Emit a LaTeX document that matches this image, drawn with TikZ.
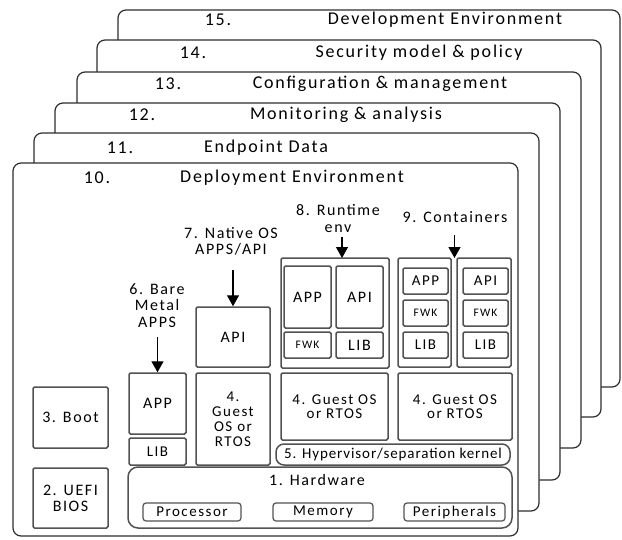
\documentclass[tikz,border=0pt]{standalone}
\usepackage{fontspec}
\setmainfont{Carlito}[LetterSpace=10]
\usetikzlibrary{arrows.meta}
\begin{document}
\begin{tikzpicture}[x=1pt,y=-1pt,
  frame/.style={draw=black!82, fill=white, line width=1.2pt, rounded corners=8pt, inner sep=0, minimum width=#1},
  box/.style={draw=black!68, fill=white, line width=1.5pt, rounded corners=1.5pt, inner sep=0, align=center, text=black, font=\fontsize{15}{15}\selectfont},
  small/.style={font=\fontsize{11.5}{12}\selectfont},
  head/.style={inner sep=0, text=black, font=\fontsize{18}{18}\selectfont},
  lbl/.style={inner sep=0, align=center, text=black, font=\fontsize{16}{16.5}\selectfont},
  tag/.style={draw=black!68, fill=white, line width=1.2pt, rounded corners=3pt, inner sep=0, text=black, font=\fontsize{15}{15}\selectfont},
  arr/.style={-{Triangle[width=12pt,length=11pt]}, line width=1.3pt, draw=black}
]
\useasboundingbox (0,0) rectangle (622,539);
% stacked frames, back to front
\node[frame=502, minimum height=377] (f15) at (369,198.5) {};
\node[head] at (218,20) {15.};
\node[head] at (445,20) {Development Environment};
\node[frame=504, minimum height=377] (f14) at (349,228.5) {};
\node[head] at (193,53) {14.};
\node[head] at (419,53) {Security model \& policy};
\node[frame=504, minimum height=376] (f13) at (329,260) {};
\node[head] at (168,84) {13.};
\node[head] at (380,84) {Configuration \& management};
\node[frame=505, minimum height=377] (f12) at (307.5,291.5) {};
\node[head] at (142,115) {12.};
\node[head] at (346,115) {Monitoring \& analysis};
\node[frame=505, minimum height=378] (f11) at (286.5,322) {};
\node[head] at (120,148) {11.};
\node[head] at (266,148) {Endpoint Data};
\node[frame=505, minimum height=373] (f10) at (265.5,349.5) {};
\node[head] at (97,178) {10.};
\node[head] at (292,178) {Deployment Environment};

% left column
\node[box, minimum width=75, minimum height=61, font=\fontsize{16}{16}\selectfont] (boot) at (70.5,417.5) {3. Boot};
\node[box, minimum width=75, minimum height=60, font=\fontsize{16}{16}\selectfont] (uefi) at (70.5,498) {2. UEFI\\BIOS};

% bare metal
\node[box, minimum width=57, minimum height=61, font=\fontsize{16}{16}\selectfont] (bmapp) at (157.5,403.5) {APP};
\node[box, minimum width=57, minimum height=27] (bmlib) at (157.5,451.5) {LIB};
\node[lbl] (l6) at (157,305.5) {6. Bare\\Metal\\APPS};
\coordinate (a6) at (157.5,337);
\draw[arr] (a6) -- (bmapp.north);

% native OS
\node[box, minimum width=74, minimum height=60, font=\fontsize{16}{16}\selectfont] (napi) at (233,337) {API};
\node[box, minimum width=74, minimum height=92] (gos1) at (233,419) {};
\node[lbl, font=\fontsize{15}{15}\selectfont] (gos1t) at (233,419) {4.\\Guest\\OS or\\RTOS};
\node[lbl] (l7) at (231,241.5) {7. Native OS\\APPS/API};
\coordinate (a7) at (233,270);
\draw[arr] (a7) -- (napi.north);

% runtime env
\node[box, minimum width=108, minimum height=110] (rt) at (335,313) {};
\node[box, minimum width=47, minimum height=62, font=\fontsize{16}{16}\selectfont] (rtapp) at (307.5,297) {APP};
\node[box, minimum width=47, minimum height=62, font=\fontsize{16}{16}\selectfont] (rtapi) at (359.5,297) {API};
\node[box, small, minimum width=47, minimum height=26] (rtfwk) at (307.5,345) {FWK};
\node[box, minimum width=47, minimum height=26, font=\fontsize{16}{16}\selectfont] (rtlib) at (359.5,345) {LIB};
\node[box, minimum width=107, minimum height=67, font=\fontsize{15}{14}\selectfont] (gos2) at (334.5,406.5) {4. Guest OS\\or RTOS};
\node[lbl] (l8) at (338,218.5) {8. Runtime\\env};
\coordinate (a8) at (342,237);
\coordinate (t8) at (342,258);
\draw[arr] (a8) -- (t8);

% containers
\node[box, minimum width=53, minimum height=109] (c1) at (424.5,312.5) {};
\node[box, minimum width=54, minimum height=109] (c2) at (484,312.5) {};
\node[box, minimum width=45, minimum height=26] (c1app) at (425.5,281) {APP};
\node[box, small, minimum width=45, minimum height=26] (c1fwk) at (425.5,313) {FWK};
\node[box, minimum width=45, minimum height=26] (c1lib) at (425.5,345) {LIB};
\node[box, minimum width=45, minimum height=26] (c2api) at (485.5,281) {API};
\node[box, small, minimum width=45, minimum height=26] (c2fwk) at (485.5,313) {FWK};
\node[box, minimum width=45, minimum height=26] (c2lib) at (485.5,345) {LIB};
\node[box, minimum width=114, minimum height=67, font=\fontsize{15}{14}\selectfont] (gos3) at (455,406.5) {4. Guest OS\\or RTOS};
\node[lbl] (l9) at (455,217) {9. Containers};
\coordinate (a9) at (454.5,235);
\coordinate (t9) at (454.5,258);
\draw[arr] (a9) -- (t9);

% hypervisor and hardware
\node[box, rounded corners=8pt, minimum width=234, minimum height=21, font=\fontsize{15}{15}\selectfont\addfontfeature{LetterSpace=6}] (hyp) at (393,454.5) {5. Hypervisor/separation kernel};
\node[box, rounded corners=10pt, minimum width=384, minimum height=61] (hw) at (320,497.5) {};
\node[lbl] (hwl) at (317,480) {1. Hardware};
\node[tag, minimum width=98, minimum height=18] (proc) at (192,512) {Processor};
\node[tag, minimum width=100, minimum height=18] (mem) at (323,512) {Memory};
\node[tag, minimum width=101, minimum height=18] (peri) at (454.5,512) {Peripherals};
\end{tikzpicture}
\end{document}
